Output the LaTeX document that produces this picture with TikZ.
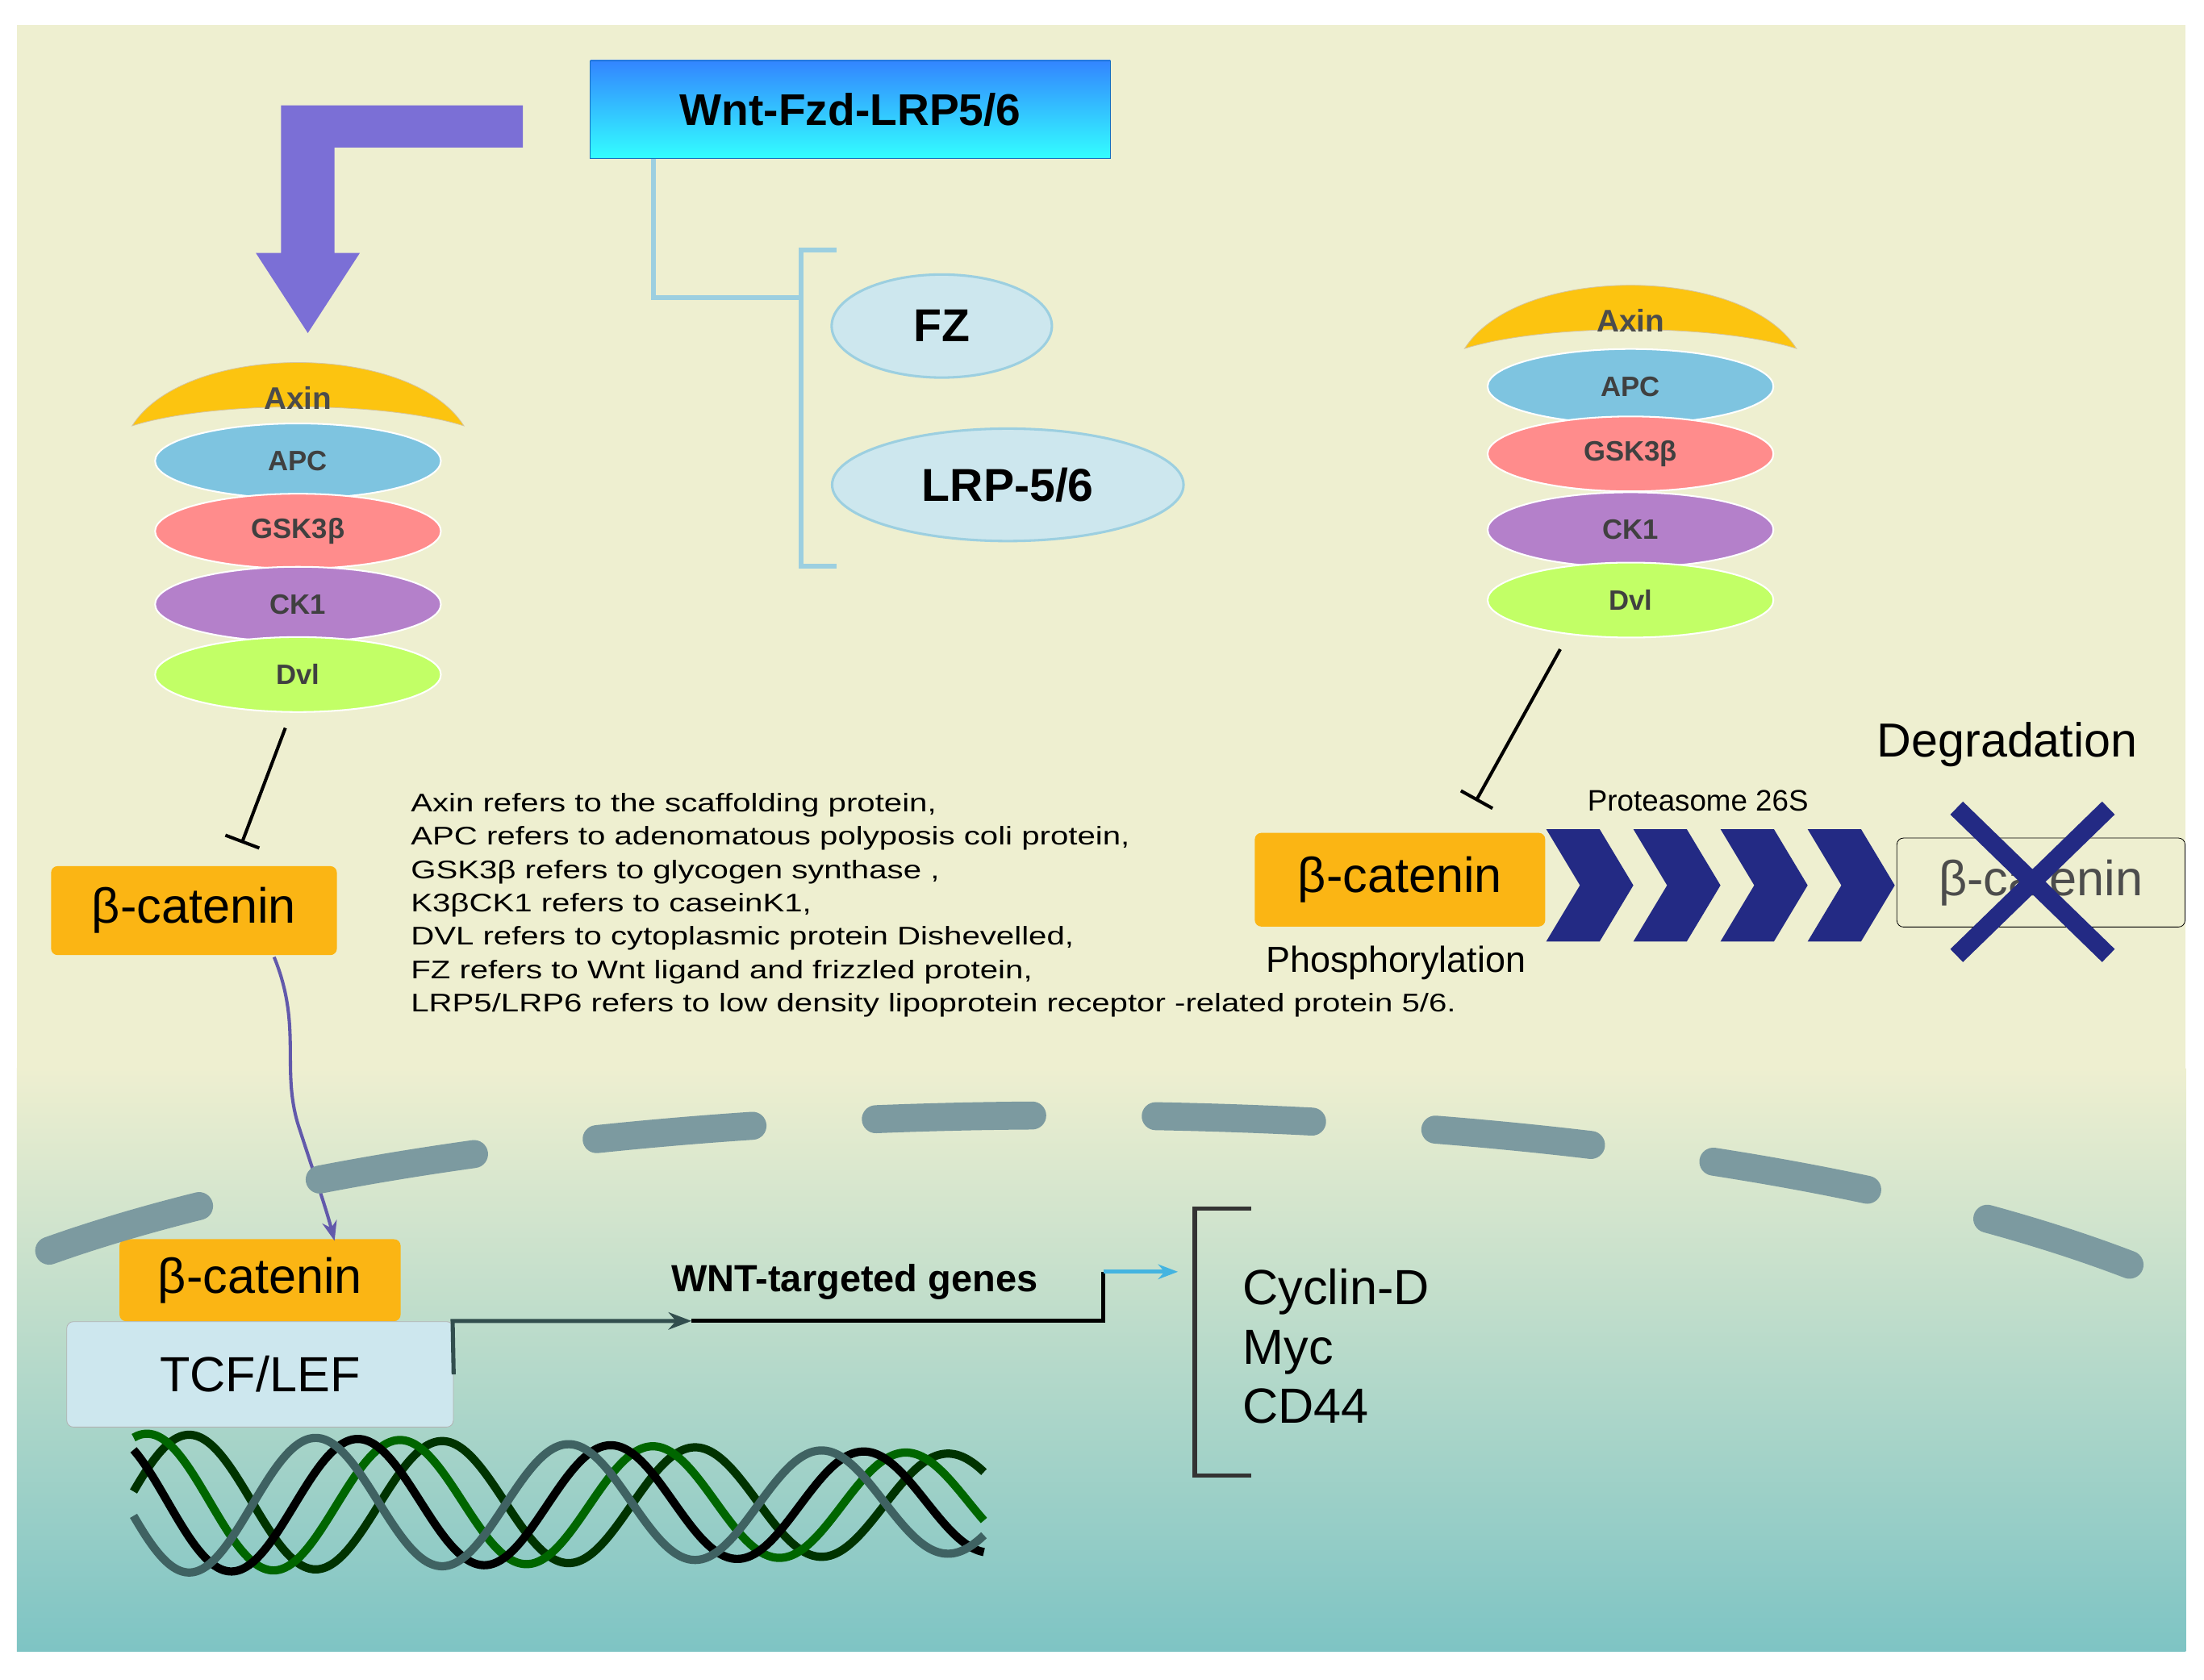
\documentclass[tikz,border=0pt]{standalone}
\usepackage{fontspec}
\setmainfont{Liberation Sans}
\usetikzlibrary{arrows.meta,decorations.pathmorphing,shapes.geometric}
\definecolor{bg}{HTML}{EEEFD0}
\definecolor{teal}{HTML}{7EC4C4}
\definecolor{orng}{HTML}{FBB514}
\definecolor{lblue}{HTML}{CDE7EE}
\definecolor{navy}{HTML}{232A84}
\definecolor{purp}{HTML}{7B6FD6}
\definecolor{dashg}{HTML}{7C9AA0}
\definecolor{brk}{HTML}{9CCFE0}
\tikzset{
 cat/.style={fill=orng,rounded corners=4pt,minimum width=6.1cm,minimum height=1.9cm,font=\fontsize{30}{30}\selectfont,inner sep=0},
 ell/.style={ellipse,draw=brk,line width=1.5pt,fill=lblue,font=\fontsize{28}{28}\selectfont\bfseries},
 disc/.style={ellipse,minimum width=6.1cm,minimum height=1.6cm,inner sep=0,font=\fontsize{17}{17}\selectfont\bfseries,text=black!75,draw=white,line width=1pt},
 desc/.style={anchor=west,font=\fontsize{15.5}{15.5}\selectfont,inner sep=0,xscale=1.27},
 inh/.style={line width=2pt,-{Bar[width=22pt]}},
}
\begin{document}
\begin{tikzpicture}[x=0.03cm,y=-0.03cm]
\useasboundingbox (0,0) rectangle (1568,1195);
\fill[white] (0,0) rectangle (1568,1195);
\fill[bg] (12,18) rectangle (1555,1175);
\shade[top color=bg,bottom color=teal] (12,760) rectangle (1555,1175);
% Wnt box
\node[minimum width=11.1cm,minimum height=2.1cm,top color=cyan!40!blue!80,bottom color=cyan!80,draw=cyan!50!blue,font=\fontsize{27}{27}\selectfont\bfseries] (wnt) at (605,78) {Wnt-Fzd-LRP5/6};
% big arrow
\fill[purp] (372,75) -- (200,75) -- (200,180) -- (182,180) -- (219,237) -- (256,180) -- (238,180) -- (238,105) -- (372,105) -- cycle;
% bracket
\draw[brk,line width=3pt] (465,113) -- (465,212) -- (570,212);
\draw[brk,line width=3pt] (595,178) -- (570,178) -- (570,403) -- (595,403);
\node[ell,minimum width=4.7cm,minimum height=2.2cm] (fz) at (670,232) {FZ};
\node[ell,minimum width=7.5cm,minimum height=2.4cm] (lrp) at (717,345) {LRP-5/6};
% stacks
\foreach \cx/\ya/\yb/\yc/\yd/\ye/\s in {212/283/328/378/430/480/l,1160/228/275/323/377/427/r}{
 \fill[orng!80!yellow,draw=orng!60!black!40] (\cx-118,\ya+20) .. controls (\cx-80,\ya-40) and (\cx+80,\ya-40) .. (\cx+118,\ya+20) .. controls (\cx+60,\ya+2) and (\cx-60,\ya+2) .. cycle;
 \node[font=\fontsize{19}{19}\selectfont\bfseries,text=black!70] (axin\s) at (\cx,\ya) {Axin};
 \node[disc,fill=cyan!40!teal!80] (apc\s) at (\cx,\yb) {APC};
 \node[disc,fill=red!45] (gsk\s) at (\cx,\yc) {GSK3β};
 \node[disc,fill=blue!45!purple!50] (ck\s) at (\cx,\yd) {CK1};
 \node[disc,fill=green!40!yellow!60] (dvl\s) at (\cx,\ye) {Dvl};
}
% beta-catenin
\node[cat] (c1) at (138,648) {β-catenin};
\node[cat,minimum width=6cm,minimum height=1.75cm] (c2) at (185,911) {β-catenin};
\node[cat,minimum width=6.2cm,minimum height=2cm] (c3) at (996,626) {β-catenin};
\coordinate (i1) at (203,518); \coordinate (i1e) at (172,600);
\draw[inh] (i1) -- (i1e);
\coordinate (i2) at (1110,462); \coordinate (i2e) at (1050,570);
\draw[inh] (i2) -- (i2e);
\coordinate (w1) at (195,681); \coordinate (w2) at (238,883);
\draw[purp!80!black,line width=2pt,-{Stealth[length=12pt]}] (w1) .. controls (215,730) and (200,760) .. (212,800) .. controls (225,840) and (232,860) .. (w2);
% TCF
\node[fill=lblue,draw=gray!60,rounded corners=4pt,minimum width=8.25cm,minimum height=2.25cm,font=\fontsize{30}{30}\selectfont] (tcf) at (185,978) {TCF/LEF};
% DNA
\foreach \ph/\c in {0/black!80!green,60/green!40!black,120/black,180/teal!50!black}{
 \draw[\c,line width=5pt,domain=95:700,samples=200,smooth] plot (\x,{1070+50*sin(2*\x+\ph)*(1-0.3*(\x-95)/605)});
}
% WNT genes
\coordinate (a1) at (492,940);
\draw[teal!40!black,line width=2.5pt,-{Stealth[length=14pt]}] (tcf.east) -- (322,940) -- (a1);
\node[font=\fontsize{23}{23}\selectfont\bfseries] (wg) at (608,912) {WNT-targeted genes};
\coordinate (a2) at (838,905);
\draw[black,line width=2.5pt] (a1) -- (785,940) -- (785,905);
\draw[cyan!60!teal,line width=2.5pt,-{Stealth[length=12pt]}] (785,905) -- (a2);
\draw[black!80,line width=2.5pt] (890,860) -- (850,860) -- (850,1050) -- (890,1050);
\node[anchor=west,align=left,font=\fontsize{30}{36}\selectfont] (genes) at (880,958) {Cyclin-D\\Myc\\CD44};
% dashed arc
\draw[dashg,line width=17pt,line cap=round,dash pattern=on 95pt off 75pt] (35,890) .. controls (400,760) and (1150,760) .. (1515,900);
% description
\node[desc] (d) at (292,573) {Axin refers to the scaffolding protein,};
\foreach \i/\t in {1/{APC refers to adenomatous polyposis coli protein,},2/{GSK3β refers to glycogen synthase ,},3/{K3βCK1 refers to caseinK1,},4/{DVL refers to cytoplasmic protein Dishevelled,},5/{FZ refers to Wnt ligand and frizzled protein,},6/{LRP5/LRP6 refers to low density lipoprotein receptor -related protein 5/6.}}
 \node[desc] at (292,573+23.7*\i) {\t};
% proteasome
\foreach \x in {1100,1162,1224,1286}{\fill[navy] (\x,590) -- (\x+38,590) -- (\x+62,630) -- (\x+38,670) -- (\x,670) -- (\x+24,630) -- cycle;}
\node[font=\fontsize{18}{18}\selectfont] (pr) at (1208,570) {Proteasome 26S};
\node[font=\fontsize{29}{29}\selectfont] (deg) at (1428,530) {Degradation};
\node[font=\fontsize{22}{22}\selectfont] (ph) at (993,685) {Phosphorylation};
\node[draw=black,rounded corners=4pt,minimum width=6.15cm,minimum height=1.9cm,font=\fontsize{30}{30}\selectfont,text=black!70] (c4) at (1452,628) {β-catenin};
\draw[navy,line width=11pt] (1392,575) -- (1500,680) (1500,575) -- (1392,680);
\end{tikzpicture}
\end{document}
